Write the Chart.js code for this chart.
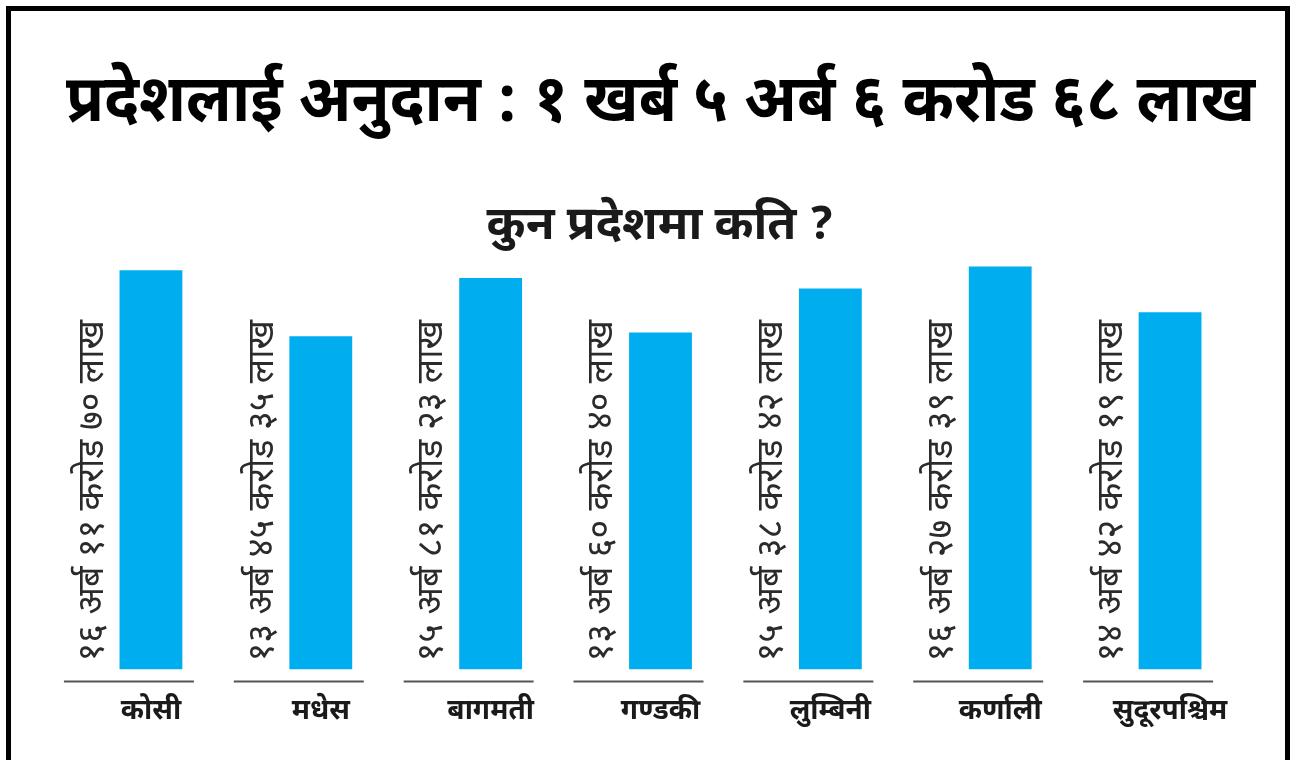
<!DOCTYPE html>
<html>
<head>
<meta charset="utf-8">
<title>प्रदेशलाई अनुदान</title>
<script src="https://cdn.jsdelivr.net/npm/chart.js@4"></script>
<style>
    html, body { margin: 0; padding: 0; background: #fff; overflow: hidden; }
    .frame {
        position: absolute; left: 6px; top: 6px;
        width: 1274px; height: 820px;
        border: 5px solid #000;
    }
    .wrap { position: absolute; left: 0; top: 0; width: 1298px; height: 760px; }
</style>
</head>
<body>
<div class="frame"></div>
<div class="wrap"><canvas id="chart"></canvas></div>
<script>
// प्रदेश अनुसार अनुदान (अर्ब रुपैयाँमा)
const provinces = ['कोसी', 'मधेस', 'बागमती', 'गण्डकी', 'लुम्बिनी', 'कर्णाली', 'सुदूरपश्चिम'];
const grantArba = [16.1170, 13.4535, 15.8123, 13.6040, 15.3842, 16.2739, 14.4219];
const grantText = [
    '१६ अर्ब ११ करोड ७० लाख',
    '१३ अर्ब ४५ करोड ३५ लाख',
    '१५ अर्ब ८१ करोड २३ लाख',
    '१३ अर्ब ६० करोड ४० लाख',
    '१५ अर्ब ३८ करोड ४२ लाख',
    '१६ अर्ब २७ करोड ३९ लाख',
    '१४ अर्ब ४२ करोड १९ लाख'
];
const titleText = 'प्रदेशलाई अनुदान : १ खर्ब ५ अर्ब ६ करोड ६८ लाख';
const subtitleText = 'कुन प्रदेशमा कति ?';

const FONT = '"Noto Sans Devanagari", "Noto Sans", "Lohit Devanagari", sans-serif';

// rotated value text beside each bar
const valueLabels = {
    id: 'valueLabels',
    afterDatasetsDraw(chart) {
        const ctx = chart.ctx;
        const meta = chart.getDatasetMeta(0);
        ctx.save();
        ctx.fillStyle = '#2b2b2b';
        ctx.font = '36px ' + FONT;
        ctx.textAlign = 'left';
        ctx.textBaseline = 'middle';
        meta.data.forEach((bar, i) => {
            ctx.save();
            ctx.translate(bar.x - 55, bar.base - 8);
            ctx.rotate(-Math.PI / 2);
            ctx.fillText(grantText[i], 0, 0);
            ctx.restore();
        });
        ctx.restore();
    }
};

// short rule under each group
const groupRules = {
    id: 'groupRules',
    afterDraw(chart) {
        const ctx = chart.ctx;
        const x = chart.scales.x;
        const y = chart.chartArea.bottom + 12;
        ctx.save();
        ctx.strokeStyle = '#555';
        ctx.lineWidth = 2;
        provinces.forEach((p, i) => {
            const cx = x.getPixelForValue(i);
            ctx.beginPath();
            ctx.moveTo(cx - 87, y);
            ctx.lineTo(cx + 43, y);
            ctx.stroke();
        });
        ctx.restore();
    }
};

new Chart(document.getElementById('chart'), {
    type: 'bar',
    data: {
        labels: provinces,
        datasets: [{
            data: grantArba,
            backgroundColor: '#00aeef',
            borderWidth: 0,
            categoryPercentage: 1,
            barPercentage: 0.37
        }]
    },
    options: {
        responsive: true,
        maintainAspectRatio: false,
        animation: false,
        layout: { padding: { left: 66, right: 43, top: 0, bottom: 9 } },
        plugins: {
            legend: { display: false },
            tooltip: { enabled: false },
            title: {
                display: true,
                text: titleText,
                color: '#000',
                font: { family: FONT, size: 65, weight: 'bold' },
                padding: { top: 70, bottom: 54 }
            },
            subtitle: {
                display: true,
                text: subtitleText,
                color: '#1a1a1a',
                font: { family: FONT, size: 47, weight: 'bold' },
                padding: { top: 0, bottom: 0 }
            }
        },
        scales: {
            x: {
                grid: { display: false },
                border: { display: false },
                ticks: {
                    color: '#1a1a1a',
                    padding: 20,
                    font: { family: FONT, size: 28, weight: 'bold' }
                }
            },
            y: {
                display: false,
                min: 0,
                max: 16.6
            }
        }
    },
    plugins: [valueLabels, groupRules]
});
</script>
</body>
</html>
